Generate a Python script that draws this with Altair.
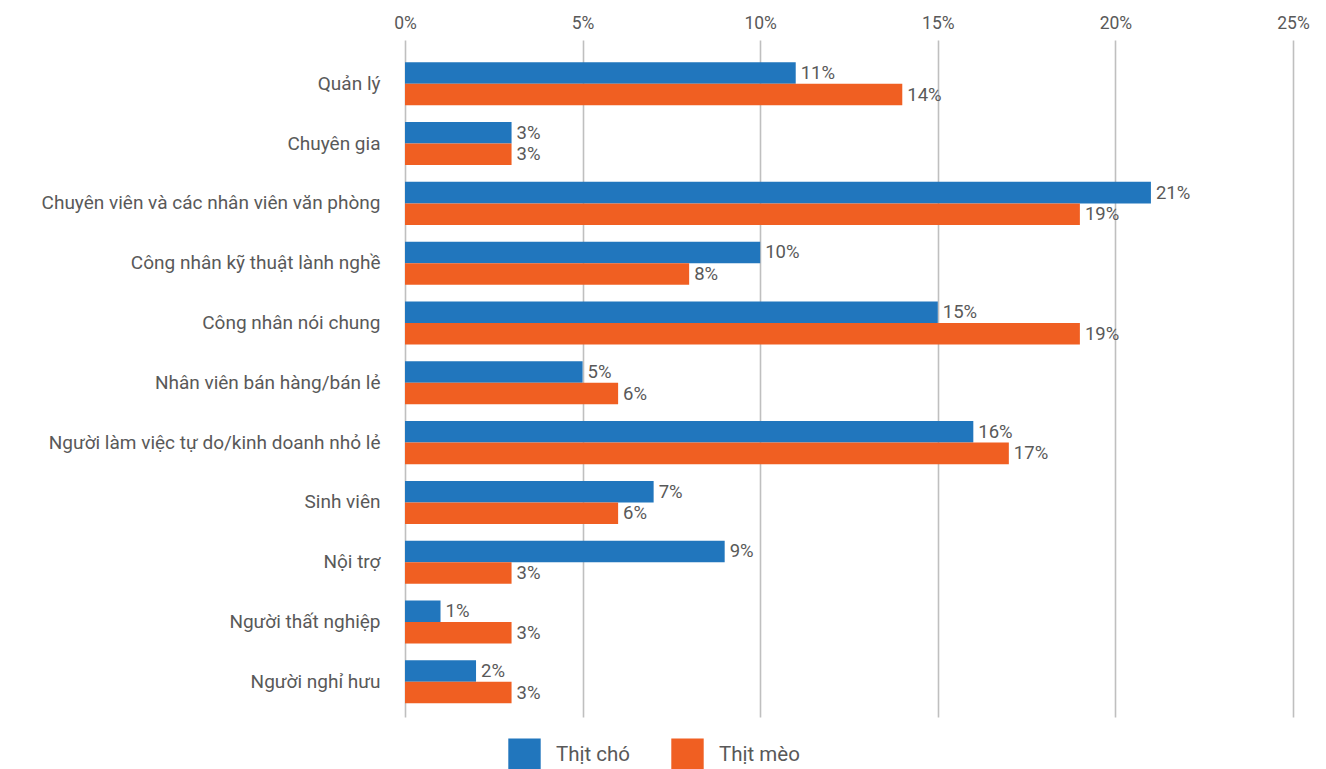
import altair as alt
import pandas as pd

categories = [
    "Quản lý",
    "Chuyên gia",
    "Chuyên viên và các nhân viên văn phòng",
    "Công nhân kỹ thuật lành nghề",
    "Công nhân nói chung",
    "Nhân viên bán hàng/bán lẻ",
    "Người làm việc tự do/kinh doanh nhỏ lẻ",
    "Sinh viên",
    "Nội trợ",
    "Người thất nghiệp",
    "Người nghỉ hưu",
]
series = ["Thịt chó", "Thịt mèo"]
dog = [11, 3, 21, 10, 15, 5, 16, 7, 9, 1, 2]
cat = [14, 3, 19, 8, 19, 6, 17, 6, 3, 3, 3]
colors = ["#2176bd", "#f05f22"]
x_ticks = [0, 5, 10, 15, 20, 25]

rows = []
for c, d, m in zip(categories, dog, cat):
    rows.append({"cat": c, "series": series[0], "value": d / 100, "label": f"{d}%"})
    rows.append({"cat": c, "series": series[1], "value": m / 100, "label": f"{m}%"})
df = pd.DataFrame(rows)

FONT = "Roboto"
TXT = "#595959"

y_enc = alt.Y(
    "cat:N",
    sort=categories,
    scale=alt.Scale(paddingInner=0.28, paddingOuter=0.3, align=0.62),
    axis=alt.Axis(
        title=None, ticks=False, domain=False, labelPadding=25,
        labelFontSize=19, labelColor=TXT, labelFont=FONT, labelLimit=500,
    ),
)
x_enc = alt.X(
    "value:Q",
    scale=alt.Scale(domain=[0, 0.25], nice=False),
    axis=alt.Axis(
        orient="top", format=".0%", values=[t / 100 for t in x_ticks],
        title=None, ticks=False, domain=False, labelPadding=8,
        labelFontSize=17.5, labelColor=TXT, labelFont=FONT,
        labelFlush=False, labelOverlap=False,
        grid=True, gridColor="#bfbfbf", gridWidth=1.6,
    ),
)

bars = alt.Chart(df).mark_bar().encode(
    y=y_enc,
    x=x_enc,
    yOffset=alt.YOffset("series:N", sort=series),
    color=alt.Color(
        "series:N", sort=series,
        scale=alt.Scale(domain=series, range=colors),
        legend=alt.Legend(
            title=None, orient="none", direction="horizontal",
            legendX=103, legendY=698, symbolType="square", symbolSize=1050,
            symbolStrokeWidth=0, symbolOpacity=1, labelFontSize=20.5, labelFont=FONT,
            labelColor=TXT, labelOffset=15, columnPadding=40,
        ),
    ),
)

labels = alt.Chart(df).mark_text(
    align="left", baseline="middle", dx=5, fontSize=18.5, font=FONT, color=TXT
).encode(
    y=alt.Y("cat:N", sort=categories),
    x="value:Q",
    yOffset=alt.YOffset("series:N", sort=series),
    text="label:N",
)

chart = (
    alt.layer(bars, labels)
    .properties(
        width=888, height=677, autosize="none",
        padding={"left": 397, "top": 32, "right": 25, "bottom": 52},
    )
    .configure_view(stroke=None)
)

chart.save("out.html", embed_options={"renderer": "svg", "actions": False})
